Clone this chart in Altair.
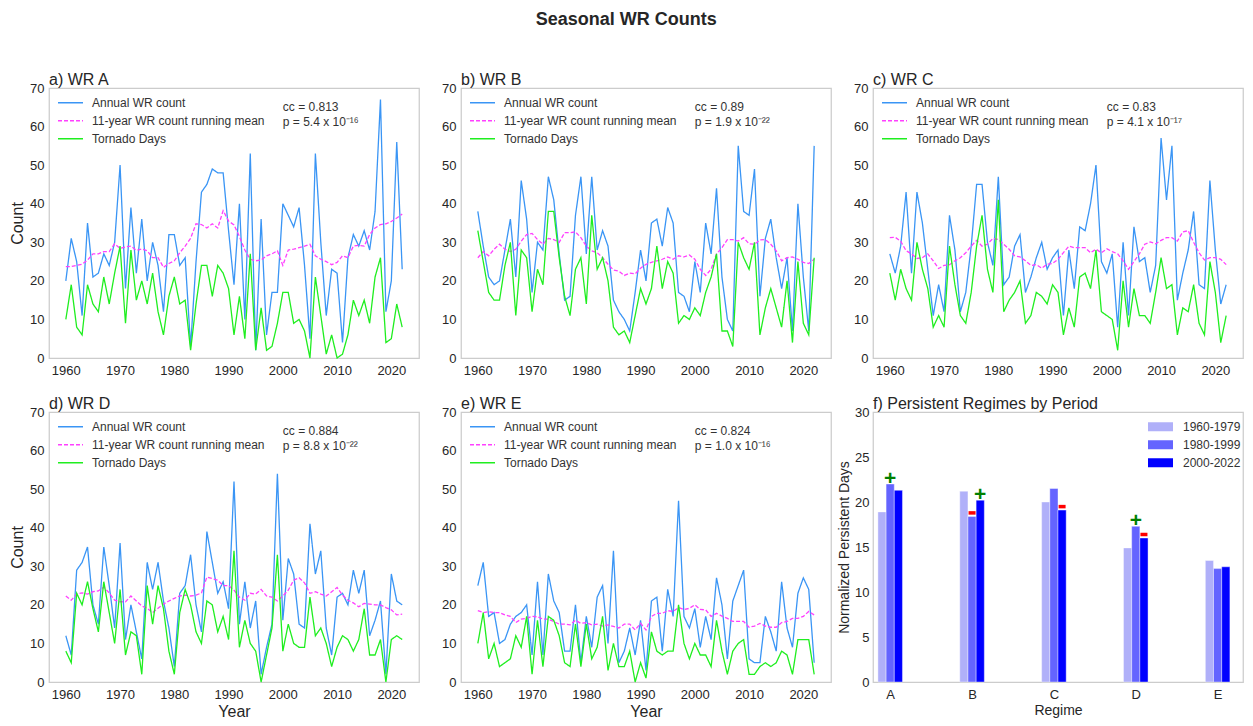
import altair as alt
import pandas as pd

years = list(range(1960, 2023))

# ---- panel a (WR A) ----
a_count = [20, 31, 25, 11, 35, 21, 22, 27, 24, 30,
           50, 18, 39, 22, 36, 20, 30, 24, 12, 32,
           32, 24, 26, 3, 25, 43, 45, 49, 48, 48,
           33, 19, 40, 10, 53, 2, 36, 6, 17, 17,
           40, 37, 34, 39, 24, 5, 53, 30, 11, 23,
           22, 4, 26, 32, 29, 33, 28, 38, 67, 12,
           20, 56, 23]
a_mean = [23.7, 23.7, 24.0, 24.3, 25.4, 27.0, 27.0, 27.6, 27.6, 29.6,
          28.4, 28.8, 29.0, 27.9, 28.3, 27.8, 26.0, 26.0, 23.5, 24.5,
          25.2, 27.3, 29.0, 31.0, 34.8, 34.6, 33.7, 34.8, 33.7, 38.2,
          35.5, 34.5, 31.5, 28.0, 25.6, 25.2, 25.4, 26.5, 27.0, 27.8,
          24.0, 28.0, 28.2, 28.6, 29.0, 29.5, 26.5, 25.6, 25.0, 24.2,
          24.8, 26.5, 26.0, 29.0, 29.2, 29.0, 32.0, 33.7, 34.6, 34.8,
          35.4, 36.3, 37.3]
a_torn = [10, 19, 8, 6, 19, 14, 12, 21, 14, 22,
          29, 9, 28, 15, 20, 14, 22, 12, 6, 16,
          21, 14, 15, 2, 14, 24, 24, 16, 24, 22,
          18, 6, 16, 5, 27, 2, 13, 2, 3, 9,
          17, 17, 9, 10, 7, 0, 21, 11, 1, 6,
          0, 1, 6, 15, 11, 15, 9, 21, 26, 4,
          5, 14, 8]

# ---- panel b (WR B) ----
b_count = [38, 29, 21, 19, 20, 28, 36, 21, 46, 36,
           17, 30, 28, 47, 41, 27, 15, 16, 37, 47,
           27, 47, 28, 33, 29, 15, 12, 10, 7, 17,
           28, 20, 35, 36, 29, 39, 35, 17, 16, 12,
           25, 17, 35, 27, 44, 21, 10, 7, 55, 38,
           37, 49, 16, 31, 36, 26, 18, 26, 7, 40,
           21, 7, 55]
b_mean = [26.0, 27.6, 26.5, 28.2, 29.5, 28.2, 27.6, 28.2, 30.3, 32.0,
          32.3, 30.7, 29.5, 31.0, 30.7, 30.0, 32.5, 32.5, 32.7, 31.2,
          29.0, 27.8, 27.3, 26.0, 24.3, 22.8, 22.5, 21.4, 22.0, 21.8,
          23.3, 24.3, 24.8, 25.2, 25.6, 26.2, 25.6, 26.5, 26.2, 26.7,
          25.6, 23.0, 21.4, 23.0, 27.0, 28.6, 30.7, 30.7, 30.3, 31.2,
          29.6, 29.5, 30.6, 30.7, 29.5, 27.8, 25.2, 26.0, 26.2, 25.6,
          24.8, 24.5, 25.6]
b_torn = [33, 25, 17, 15, 15, 24, 30, 11, 28, 26,
          12, 23, 19, 38, 38, 26, 16, 11, 23, 26,
          14, 37, 23, 26, 20, 8, 6, 7, 4, 11,
          18, 14, 18, 29, 18, 25, 22, 9, 11, 10,
          13, 11, 17, 21, 27, 7, 7, 3, 30, 26,
          23, 30, 6, 13, 18, 13, 8, 20, 4, 25,
          9, 6, 26]

# ---- panel c (WR C) ----
c_count = [27, 22, 29, 43, 22, 43, 35, 23, 11, 19,
           12, 37, 28, 12, 17, 29, 45, 45, 30, 24,
           47, 19, 21, 29, 32, 17, 21, 26, 30, 23,
           26, 28, 11, 28, 18, 34, 33, 40, 50, 25,
           22, 27, 8, 30, 11, 34, 25, 26, 17, 24,
           57, 41, 55, 15, 22, 28, 38, 19, 18, 46,
           28, 14, 19]
c_mean = [31.2, 31.3, 30.3, 27.8, 27.0, 25.8, 26.0, 27.0, 25.2, 23.2,
          24.0, 24.2, 25.2, 26.0, 27.3, 29.0, 30.5, 29.0, 29.5, 31.0,
          30.7, 29.5, 28.2, 26.5, 26.2, 25.2, 24.0, 24.2, 23.3, 24.3,
          24.5, 25.6, 27.3, 29.0, 28.6, 28.6, 28.6, 27.3, 28.2, 27.3,
          28.3, 27.6, 27.0, 25.2, 23.0, 25.0, 27.0, 29.5, 30.1, 29.6,
          30.5, 31.2, 31.2, 30.3, 32.7, 33.0, 30.0, 27.3, 25.4, 26.0,
          26.0, 25.6, 24.2]
c_torn = [22, 15, 23, 18, 15, 30, 23, 18, 8, 11,
          8, 29, 19, 11, 9, 17, 29, 37, 23, 17,
          41, 12, 15, 17, 20, 9, 11, 17, 16, 14,
          19, 17, 6, 13, 8, 21, 22, 18, 28, 12,
          11, 10, 2, 20, 8, 18, 11, 11, 9, 17,
          26, 18, 19, 6, 13, 12, 19, 9, 6, 25,
          17, 4, 11]

# ---- panel d (WR D) ----
d_count = [12, 7, 29, 31, 35, 20, 15, 35, 25, 14,
           36, 11, 20, 13, 6, 31, 24, 31, 21, 14,
           4, 23, 25, 33, 20, 13, 39, 31, 23, 26,
           19, 52, 15, 26, 14, 21, 2, 9, 15, 54,
           16, 32, 28, 15, 14, 41, 28, 34, 14, 7,
           22, 23, 20, 29, 23, 29, 12, 16, 21, 2,
           28, 21, 20]
d_mean = [22.3, 21.2, 22.8, 23.1, 22.8, 23.4, 23.6, 24.6, 23.1, 21.2,
          20.8, 20.8, 22.3, 21.0, 19.7, 19.1, 18.0, 19.1, 20.2, 21.0,
          21.7, 22.3, 22.5, 22.3, 22.5, 23.1, 27.2, 26.8, 26.4, 25.0,
          25.0, 23.8, 22.0, 21.2, 23.0, 22.8, 24.0, 22.3, 22.0, 21.0,
          22.3, 23.8, 26.4, 27.0, 25.7, 23.0, 23.4, 22.8, 22.3, 23.4,
          24.5, 22.5, 21.2, 20.5, 19.5, 20.4, 20.2, 20.0, 20.0, 19.3,
          18.7, 17.4, 17.6]
d_torn = [8, 5, 23, 20, 26, 19, 13, 26, 18, 10,
          24, 7, 13, 12, 2, 25, 15, 25, 19, 8,
          2, 18, 24, 20, 13, 10, 21, 20, 13, 17,
          11, 34, 9, 16, 10, 8, 0, 7, 14, 33,
          8, 15, 10, 9, 9, 22, 12, 14, 10, 4,
          9, 12, 11, 8, 11, 19, 7, 7, 11, 0,
          11, 12, 11]

# ---- panel e (WR E) ----
e_count = [25, 31, 17, 18, 10, 11, 15, 17, 18, 20,
           7, 26, 7, 28, 21, 18, 8, 8, 20, 5,
           17, 9, 22, 25, 10, 34, 5, 8, 14, 7,
           16, 3, 21, 22, 8, 24, 17, 47, 17, 14,
           19, 9, 17, 11, 27, 20, 6, 21, 25, 29,
           6, 5, 5, 17, 13, 8, 26, 14, 9, 23,
           27, 24, 5]
e_mean = [18.5, 18.0, 18.2, 18.0, 18.0, 17.4, 17.0, 15.4, 16.3, 16.5,
          17.0, 16.9, 16.3, 16.3, 15.7, 15.0, 15.0, 14.8, 16.0, 15.2,
          15.4, 14.8, 15.0, 14.5, 14.8, 14.4, 14.0, 15.0, 15.0, 13.5,
          15.2, 13.5, 17.0, 17.8, 17.8, 18.5, 18.3, 19.3, 18.8, 19.1,
          20.0, 18.8, 18.7, 17.0, 17.8, 17.1, 16.5, 15.7, 15.7, 15.7,
          14.2, 14.5, 15.2, 14.5, 14.2, 14.2, 15.4, 15.7, 16.5, 16.5,
          17.0, 18.3, 17.4]
e_torn = [10, 18, 6, 10, 4, 5, 6, 12, 9, 17,
          2, 16, 4, 17, 16, 12, 5, 4, 15, 4,
          15, 6, 9, 17, 3, 10, 4, 4, 8, 0,
          5, 1, 13, 8, 7, 8, 8, 20, 10, 6,
          10, 7, 7, 4, 16, 8, 2, 8, 10, 11,
          2, 2, 4, 5, 4, 5, 8, 7, 2, 11,
          11, 11, 2]

panel_labels = ["a) WR A", "b) WR B", "c) WR C", "d) WR D", "e) WR E"]
panel_counts = [a_count, b_count, c_count, d_count, e_count]
panel_means = [a_mean, b_mean, c_mean, d_mean, e_mean]
panel_torns = [a_torn, b_torn, c_torn, d_torn, e_torn]
panel_cc = ["cc = 0.813", "cc = 0.89", "cc = 0.83", "cc = 0.884", "cc = 0.824"]
panel_p = ["p = 5.4 x 10⁻¹⁶", "p = 1.9 x 10⁻²²", "p = 4.1 x 10⁻¹⁷",
           "p = 8.8 x 10⁻²²", "p = 1.0 x 10⁻¹⁶"]
ann_year = 2000
ann_values = [65.2, 61.1]

series_names = ["Annual WR count", "11-year WR count running mean", "Tornado Days"]
series_colors = ["#3a95f5", "#ff40ff", "#1fee1f"]
series_dash = [[1, 0], [4, 2], [1, 0]]

# ---- panel f ----
regimes = ["A", "B", "C", "D", "E"]
periods = ["1960-1979", "1980-1999", "2000-2022"]
f_p1 = [18.9, 21.2, 20.0, 14.9, 13.5]
f_p2 = [22.0, 18.4, 21.5, 17.3, 12.6]
f_p3 = [21.3, 20.2, 19.1, 16.0, 12.8]
period_colors = ["#b0b0f9", "#6464ff", "#0000ff"]
plus_marks = [("A", "1980-1999"), ("B", "2000-2022"), ("D", "1980-1999")]
minus_marks = [("B", "1980-1999"), ("C", "2000-2022"), ("D", "2000-2022")]

W = 370
H = 270
TXT = "#262626"


def ts_chart(i):
    n = len(years)
    df = pd.DataFrame({
        "year": years * 3,
        "series": [s for s in series_names for _ in range(n)],
        "value": panel_counts[i] + panel_means[i] + panel_torns[i],
    })
    bottom = i >= 3
    left = i in (0, 3)
    xaxis = dict(values=list(range(1960, 2021, 10)), format="d", labelPadding=6)
    if bottom:
        xaxis.update(title="Year", titleFontSize=16, titlePadding=2)
    else:
        xaxis.update(title=None)
    yaxis = dict(values=list(range(0, 71, 10)), labelPadding=5)
    if left:
        yaxis.update(title="Count", titleFontSize=16, titlePadding=4)
    else:
        yaxis.update(title=None)
    x = alt.X("year:Q", scale=alt.Scale(domain=[1956.9, 2025.1], nice=False, zero=False),
              axis=alt.Axis(**xaxis))
    y = alt.Y("value:Q", scale=alt.Scale(domain=[0, 70], nice=False), axis=alt.Axis(**yaxis))
    leg = alt.Legend(title=None, orient="none", legendX=8, legendY=6, symbolType="stroke",
                     symbolSize=625, symbolStrokeWidth=1.5, labelFontSize=12, labelColor="#333333",
                     padding=0, rowPadding=0, clipHeight=17.5, labelOffset=8, labelLimit=0)
    color = alt.Color("series:N", scale=alt.Scale(domain=series_names, range=series_colors), legend=leg)
    dash = alt.StrokeDash("series:N", scale=alt.Scale(domain=series_names, range=series_dash), legend=leg)
    layers = []
    for s in series_names:
        layers.append(
            alt.Chart(df).transform_filter(alt.datum.series == s)
            .mark_line(strokeWidth=1.3)
            .encode(x=x, y=y, color=color, strokeDash=dash)
        )
    ann = pd.DataFrame({"year": [ann_year, ann_year], "value": ann_values,
                        "t": [panel_cc[i], panel_p[i]]})
    layers.append(
        alt.Chart(ann).mark_text(align="left", baseline="middle", fontSize=12, color="#333333")
        .encode(x=x, y=y, text="t:N")
    )
    return alt.layer(*layers).properties(
        width=W, height=H,
        title=alt.TitleParams(panel_labels[i], anchor="start", fontSize=16, fontWeight="normal",
                              color=TXT, offset=-6, frame="group"),
    )


def bar_chart():
    vals = [f_p1, f_p2, f_p3]
    rows = []
    for ri, r in enumerate(regimes):
        for pi, per in enumerate(periods):
            rows.append({"ri": ri, "pi": pi, "period": per, "value": vals[pi][ri]})
    df = pd.DataFrame(rows)

    def mk(lst):
        out = []
        for r, per in lst:
            ri = regimes.index(r)
            pi = periods.index(per)
            out.append({"ri": ri, "pi": pi, "value": vals[pi][ri]})
        return pd.DataFrame(out)

    x_axis = alt.Axis(values=[0, 1, 2, 3, 4], labelExpr=f"{regimes}[datum.value]",
                      title="Regime", titleFontSize=14, titlePadding=2, labelPadding=6)
    xs = alt.Scale(domain=[-0.21, 4.31], nice=False, zero=False)
    y = alt.Y("value:Q", scale=alt.Scale(domain=[0, 30], nice=False),
              axis=alt.Axis(values=list(range(0, 31, 5)), title="Normalized Persistent Days",
                            titleFontSize=14, titlePadding=3, labelPadding=4))
    leg = alt.Legend(title=None, orient="none", legendX=275, legendY=6,
                     symbolType="M-1,-0.36L1,-0.36L1,0.36L-1,0.36Z", symbolSize=625,
                     symbolStrokeWidth=0, labelFontSize=12, labelColor="#333333",
                     padding=0, rowPadding=0, clipHeight=17.5, labelOffset=10, labelLimit=0)
    bars = (
        alt.Chart(df)
        .transform_calculate(xa="datum.ri + (datum.pi - 1) * 0.1 - 0.05",
                             xb="datum.ri + (datum.pi - 1) * 0.1 + 0.05")
        .mark_bar(stroke="white", strokeWidth=0.4)
        .encode(
            x=alt.X("xa:Q", scale=xs, axis=x_axis),
            x2="xb:Q",
            y=y,
            y2=alt.datum(0),
            color=alt.Color("period:N", scale=alt.Scale(domain=periods, range=period_colors), legend=leg),
        )
    )
    plus = (
        alt.Chart(mk(plus_marks))
        .transform_calculate(xa="datum.ri + (datum.pi - 1) * 0.1")
        .mark_text(text="+", fontSize=21, fontWeight="bold", color="#008000",
                   baseline="alphabetic", align="center", dy=1)
        .encode(x=alt.X("xa:Q", scale=xs, axis=x_axis), y=y)
    )
    minus = (
        alt.Chart(mk(minus_marks))
        .transform_calculate(xa="datum.ri + (datum.pi - 1) * 0.1")
        .mark_point(shape="M-1,-0.5L1,-0.5L1,0.5L-1,0.5Z", size=49, filled=True,
                    color="#ff0000", opacity=1, yOffset=-3.5)
        .encode(x=alt.X("xa:Q", scale=xs, axis=x_axis), y=y)
    )
    return alt.layer(bars, plus, minus).properties(
        width=W, height=H,
        title=alt.TitleParams("f) Persistent Regimes by Period", anchor="start", fontSize=16,
                              fontWeight="normal", color=TXT, offset=-6, frame="group"),
    )


charts = [ts_chart(i) for i in range(5)] + [bar_chart()]

chart = (
    alt.concat(*charts, columns=3, spacing={"row": 54, "column": 42}, bounds="flush")
    .resolve_scale(color="independent", strokeDash="independent")
    .properties(
        title=alt.TitleParams("Seasonal WR Counts", fontSize=18, fontWeight="bold",
                              anchor="middle", offset=42, color=TXT),
        padding={"left": 0, "top": 3, "right": 0, "bottom": 0},
    )
    .configure(font="Liberation Sans")
    .configure_view(stroke="#cccccc", strokeWidth=1.25)
    .configure_axis(grid=False, ticks=False, domain=False, labelColor=TXT, labelFontSize=13,
                    titleColor=TXT, titleFontWeight="normal")
)

chart.save("out.html", embed_options={"renderer": "svg", "actions": False})
